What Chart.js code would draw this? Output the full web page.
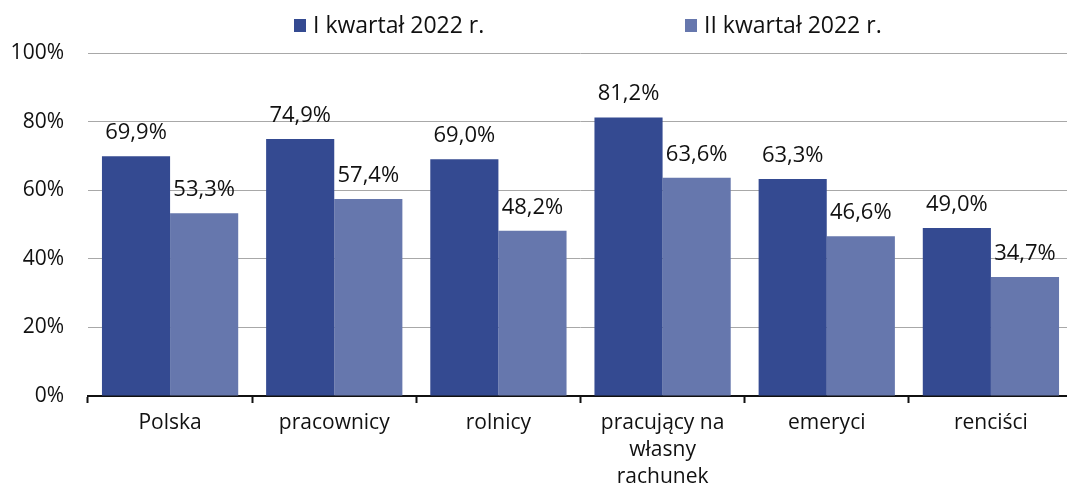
<!DOCTYPE html>
<html>
<head>
<meta charset="utf-8">
<script src="https://cdn.jsdelivr.net/npm/chart.js@4"></script>
<style>
html,body{margin:0;padding:0;background:#fff;overflow:hidden;}
#wrap{width:1073px;height:488px;position:relative;}
</style>
</head>
<body>
<div id="wrap"><canvas id="c"></canvas></div>
<script>
const categories = ["Polska", "pracownicy", "rolnicy", ["pracujący na", "własny", "rachunek"], "emeryci", "renciści"];
const seriesNames = ["I kwartał 2022 r.", "II kwartał 2022 r."];
const q1Values = [69.9, 74.9, 69.0, 81.2, 63.3, 49.0];
const q2Values = [53.3, 57.4, 48.2, 63.6, 46.6, 34.7];
const yTicks = [0, 20, 40, 60, 80, 100];

const colors = ["#344a91", "#6677ad"];
const FONT = "'Open Sans', 'DejaVu Sans', sans-serif";

const fmt = v => v.toFixed(1).replace('.', ',') + '%';

const dataLabels = {
  id: 'dataLabels',
  afterDatasetsDraw(chart) {
    const ctx = chart.ctx;
    ctx.save();
    ctx.font = "22px " + FONT;
    ctx.fillStyle = "#111";
    ctx.textAlign = "center";
    ctx.textBaseline = "alphabetic";
    chart.data.datasets.forEach((ds, i) => {
      chart.getDatasetMeta(i).data.forEach((bar, j) => {
        ctx.fillText(fmt(ds.data[j]), bar.x, bar.y - 17);
      });
    });
    ctx.restore();
  }
};

const customLegend = {
  id: 'customLegend',
  afterDraw(chart) {
    const ctx = chart.ctx;
    ctx.save();
    ctx.font = "23px " + FONT;
    ctx.textBaseline = "middle";
    ctx.textAlign = "left";
    const pos = [294, 685];
    chart.data.datasets.forEach((ds, i) => {
      ctx.fillStyle = ds.backgroundColor;
      ctx.fillRect(pos[i], 19, 12, 13);
      ctx.fillStyle = "#111";
      ctx.fillText(ds.label, pos[i] + 19, 26);
    });
    ctx.restore();
  }
};

new Chart(document.getElementById('c'), {
  type: 'bar',
  data: {
    labels: categories,
    datasets: [
      { label: seriesNames[0], data: q1Values, backgroundColor: colors[0], borderWidth: 0 },
      { label: seriesNames[1], data: q2Values, backgroundColor: colors[1], borderWidth: 0 }
    ]
  },
  options: {
    responsive: true,
    maintainAspectRatio: false,
    animation: false,
    layout: { padding: { top: 53, right: 0, left: 0, bottom: 0 } },
    plugins: { legend: { display: false }, tooltip: { enabled: false } },
    datasets: { bar: { categoryPercentage: 0.83, barPercentage: 1.0 } },
    scales: {
      x: {
        afterFit: s => { s.height = 92; },
        grid: { offset: true, drawOnChartArea: false, drawTicks: true, tickLength: 7, tickColor: "#111", tickWidth: 2 },
        border: { display: true, color: "#111", width: 2 },
        ticks: { color: "#111", font: { family: FONT, size: 21, lineHeight: 1.29 }, padding: 6, maxRotation: 0, autoSkip: false }
      },
      y: {
        min: 0, max: 100,
        afterFit: s => { s.width = 88; },
        afterBuildTicks: s => { s.ticks = yTicks.map(v => ({ value: v })); },
        grid: { color: "#a8a8a8", lineWidth: 1, drawTicks: false },
        border: { display: false },
        ticks: { color: "#111", font: { family: FONT, size: 21 }, padding: 24, callback: v => v + '%' }
      }
    }
  },
  plugins: [dataLabels, customLegend]
});
</script>
</body>
</html>
